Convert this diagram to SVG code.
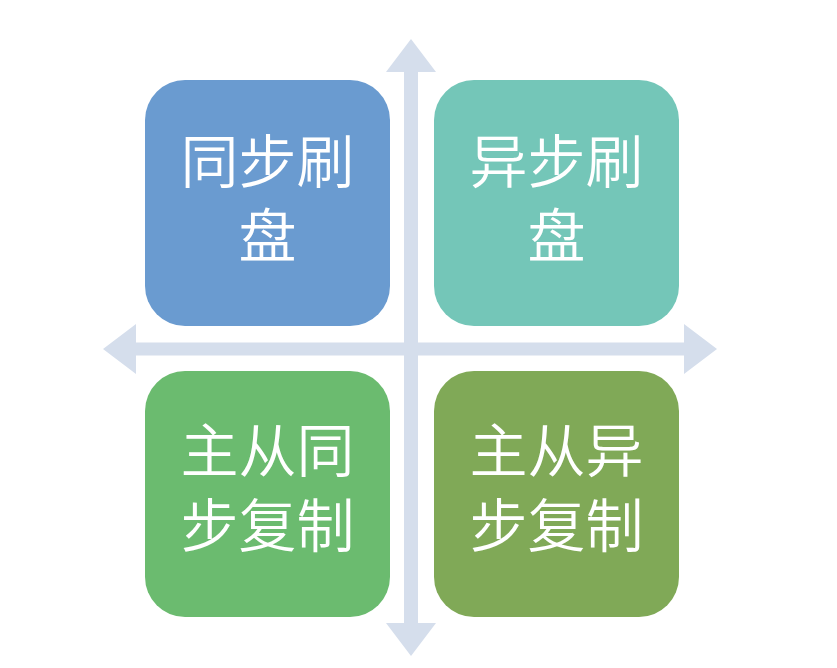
<svg xmlns="http://www.w3.org/2000/svg" width="837" height="668" viewBox="0 0 837 668">
  <style>
    .box { stroke: none; }
    .label { font-family: "Noto Sans CJK SC", "Noto Sans", sans-serif; font-size: 58px; font-weight: 350; fill: #ffffff; text-anchor: middle; }
    .axis { fill: #D5DEEC; }
  </style>
  <rect width="837" height="668" fill="#ffffff"/>
  <g id="connectors">
    <polygon class="axis" points="411,39 436,72 418,72 418,623 436,623 411,656 386,623 404,623 404,72 386,72"/>
    <polygon class="axis" points="103,349 136,324 136,342.5 684,342.5 684,324 717,349 684,374 684,355.5 136,355.5 136,374"/>
  </g>
  <g id="node-sync-flush">
    <rect class="box" x="145" y="80" width="245" height="246" rx="40" fill="#6A9BD0"/>
    <text class="label" x="267.5" y="183">同步刷</text>
    <text class="label" x="267.5" y="257">盘</text>
  </g>
  <g id="node-async-flush">
    <rect class="box" x="434" y="80" width="245" height="246" rx="40" fill="#74C6B8"/>
    <text class="label" x="556.5" y="183">异步刷</text>
    <text class="label" x="556.5" y="257">盘</text>
  </g>
  <g id="node-sync-replication">
    <rect class="box" x="145" y="371" width="245" height="246" rx="40" fill="#6BBB6F"/>
    <text class="label" x="267.5" y="472">主从同</text>
    <text class="label" x="267.5" y="547">步复制</text>
  </g>
  <g id="node-async-replication">
    <rect class="box" x="434" y="371" width="245" height="246" rx="40" fill="#80A957"/>
    <text class="label" x="556.5" y="472">主从异</text>
    <text class="label" x="556.5" y="547">步复制</text>
  </g>
</svg>
